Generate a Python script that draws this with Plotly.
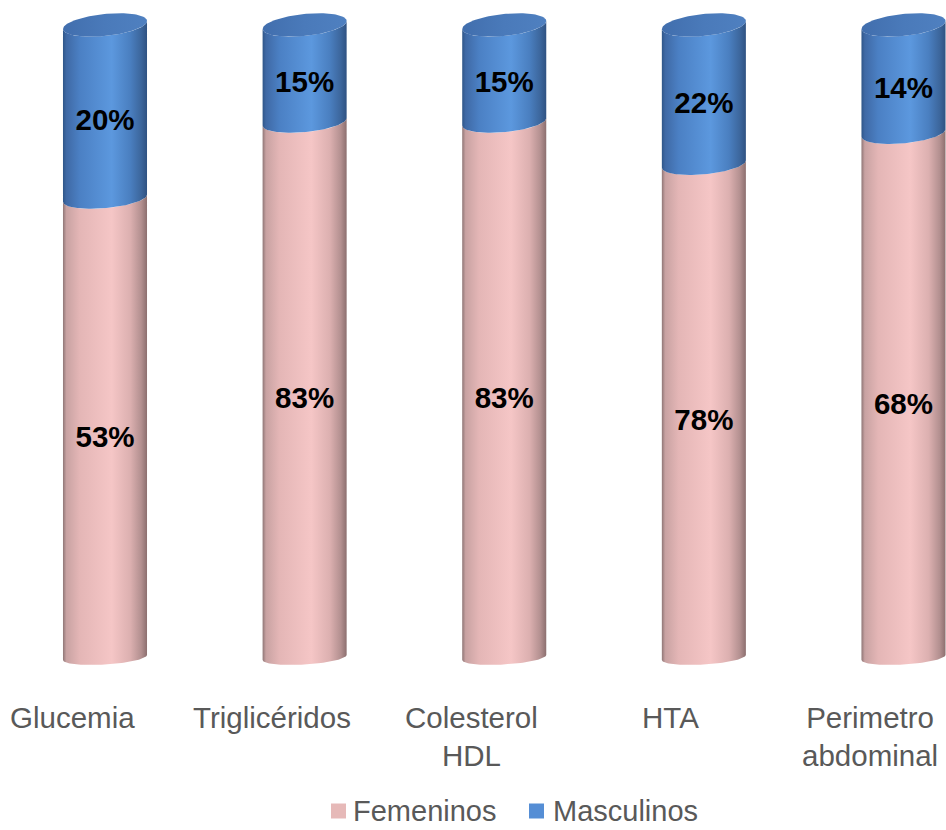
import numpy as np
import plotly.graph_objects as go

# ---- data ----
categories = ["Glucemia", "Triglicéridos", "Colesterol<br>HDL", "HTA", "Perimetro<br>abdominal"]
femeninos = [53, 83, 83, 78, 68]
masculinos = [20, 15, 15, 22, 14]
series_names = ["Femeninos", "Masculinos"]

# ---- page / plot geometry ----
W, H = 946, 830
M_L, M_R, M_T, M_B = 0, 0, 0, 150
PLOT_W = W - M_L - M_R
PLOT_H = H - M_T - M_B
X_RANGE = [-0.526, 4.213]
Y_RANGE = [-3.56, 103.95]
PX_X = PLOT_W / (X_RANGE[1] - X_RANGE[0])
PX_Y = PLOT_H / (Y_RANGE[1] - Y_RANGE[0])

HALF_W = 0.2105          # half bar width, x units
A_PX = HALF_W * PX_X     # ellipse half width, px

# styling
PINK_SCALE = [[0.0, "#8f7676"], [0.04, "#c8a2a2"], [0.2, "#e4b6b6"], [0.58, "#f5c6c6"],
              [0.8, "#dcb0b0"], [0.93, "#b39090"], [1.0, "#8c6f6f"]]
BLUE_SCALE = [[0.0, "#2f5688"], [0.04, "#3f69a5"], [0.2, "#4b80c4"], [0.58, "#5c98de"],
              [0.8, "#4a7fc0"], [0.93, "#3c669c"], [1.0, "#2f5282"]]
CAP_SCALE = [[0.0, "#416ead"], [0.5, "#4a7aba"], [1.0, "#4f80c0"]]
LEGEND_COLORS = ["#E6B9B8", "#558ED5"]
FONT = "Liberation Sans, Arial, sans-serif"
GREY = "#595959"


def px_to_paper_y(py):
    """Page pixel row -> paper y fraction of the plot area."""
    return (M_T + PLOT_H - py) / PLOT_H


def px_to_paper_x(px):
    return (px - M_L) / PLOT_W


def ellipse_params(y):
    """Vertical semi-axis and tilt (px) of the cylinder cross-section at height y (%)."""
    f = y / 100.0
    b_px = 7 + 4 * f
    tilt = 0.06 + 0.035 * f
    return b_px, tilt


def ellipse_pts(xc, y, t):
    b_px, tilt = ellipse_params(y)
    dx_px = A_PX * np.cos(t)
    dy_px = b_px * np.sin(t) - tilt * dx_px      # pixel offsets (down positive)
    return xc + dx_px / PX_X, y - dy_px / PX_Y


def body(xc, y_lo, y_hi):
    t_lo = np.linspace(np.pi, 0, 60)     # front arc, left -> right
    t_hi = np.linspace(0, np.pi, 60)     # front arc, right -> left
    x1, y1 = ellipse_pts(xc, y_lo, t_lo)
    x2, y2 = ellipse_pts(xc, y_hi, t_hi)
    xs = np.concatenate([x1, x2, x1[:1]])
    ys = np.concatenate([y1, y2, y1[:1]])
    return xs, ys


fig = go.Figure()

for i, cat in enumerate(categories):
    total = femeninos[i] + masculinos[i]
    f_top = femeninos[i] / total * 100.0      # 100% stacked
    segs = [(0.0, f_top, PINK_SCALE), (f_top, 100.0, BLUE_SCALE)]
    for lo, hi, scale in segs:
        xs, ys = body(i, lo, hi)
        fig.add_trace(go.Scatter(
            x=xs, y=ys, mode="lines", fill="toself", line=dict(width=0),
            fillgradient=dict(type="horizontal", colorscale=scale),
            hoverinfo="skip", showlegend=False))
    # top cap
    t = np.linspace(0, 2 * np.pi, 120)
    cx, cy = ellipse_pts(i, 100.0, t)
    fig.add_trace(go.Scatter(
        x=cx, y=cy, mode="lines", fill="toself", line=dict(width=0),
        fillgradient=dict(type="horizontal", colorscale=CAP_SCALE),
        hoverinfo="skip", showlegend=False))

# value labels, centred in each segment (nudged slightly down)
lab_x, lab_y, lab_t = [], [], []
for i in range(len(categories)):
    total = femeninos[i] + masculinos[i]
    f_top = femeninos[i] / total * 100.0
    lab_x += [i, i]
    lab_y += [f_top / 2 - 1.8, (f_top + 100) / 2 - 1.8]
    lab_t += [f"{femeninos[i]}%", f"{masculinos[i]}%"]

fig.add_trace(go.Scatter(
    x=lab_x, y=lab_y, mode="text", text=lab_t,
    textfont=dict(family=FONT, size=29.5, color="#000000", weight="bold"),
    hoverinfo="skip", showlegend=False))

# category labels (set slightly left of the bars, as seen in perspective)
for i, cat in enumerate(categories):
    fig.add_annotation(
        x=i, xref="x", xshift=-33, y=px_to_paper_y(699), yref="paper",
        yanchor="top", xanchor="center", align="center", showarrow=False,
        text=cat, font=dict(family=FONT, size=29.5, color=GREY))

# legend: colour squares and series names
LEG_Y = 811
legend_pos = [(331, 352), (529, 552)]
for (sx, tx), name, col in zip(legend_pos, series_names, LEGEND_COLORS):
    fig.add_shape(type="rect", xref="paper", yref="paper",
                  x0=px_to_paper_x(sx), x1=px_to_paper_x(sx + 15),
                  y0=px_to_paper_y(LEG_Y + 7.5), y1=px_to_paper_y(LEG_Y - 7.5),
                  fillcolor=col, line=dict(width=0))
    fig.add_annotation(
        x=px_to_paper_x(tx), xref="paper", y=px_to_paper_y(LEG_Y), yref="paper",
        xanchor="left", yanchor="middle", showarrow=False, text=name,
        borderpad=0, font=dict(family=FONT, size=29, color=GREY))

fig.update_layout(
    width=W, height=H,
    margin=dict(l=M_L, r=M_R, t=M_T, b=M_B),
    paper_bgcolor="white", plot_bgcolor="white",
    font=dict(family=FONT, color=GREY, size=29),
    xaxis=dict(range=X_RANGE, showticklabels=False, showgrid=False, zeroline=False,
               showline=False, ticks="", fixedrange=True),
    yaxis=dict(range=Y_RANGE, visible=False, fixedrange=True),
    showlegend=False,
)

fig.write_html("out.html")
